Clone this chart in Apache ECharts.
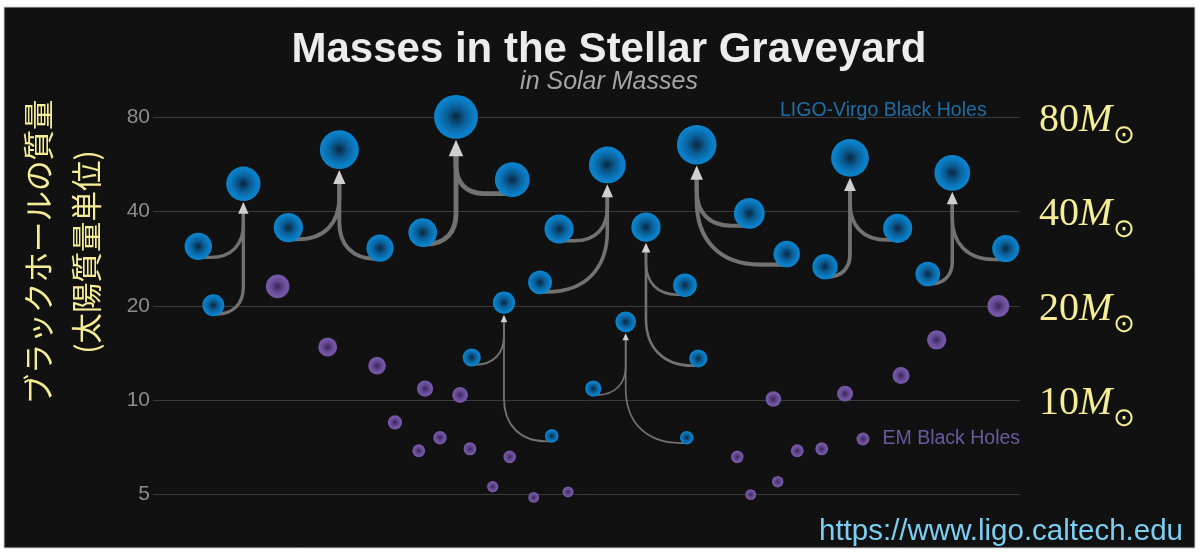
<!DOCTYPE html>
<html>
<head>
<meta charset="utf-8">
<script src="https://cdn.jsdelivr.net/npm/echarts@6/dist/echarts.min.js"></script>
<style>
html,body{margin:0;padding:0;background:#fff;}
#chart{width:1200px;height:559px;}
</style>
</head>
<body>
<div id="chart"></div>
<script>
// ---- Data (masses in solar masses, x = arbitrary horizontal layout position 0-100) ----
const events   = ['GW170104','GW150914','GW170729','GW151226','GW170809','GW170608','GW151012','GW170823','GW170818','GW170814'];
const mass1    = [31.0, 35.6, 34.3, 13.7, 35.2, 10.9, 23.3, 39.5, 35.4, 30.5];
const mass2    = [20.1, 30.6, 50.6,  7.7, 23.8,  7.6, 13.6, 29.3, 26.7, 25.3];
const massF    = [49.1, 63.1, 80.3, 20.5, 56.4, 17.8, 35.7, 65.4, 59.4, 53.2];
const pos1     = [5.22, 15.61, 31.11, 36.76, 46.83, 50.78, 61.36, 68.78, 85.89, 98.35];
const pos2     = [6.96, 26.18, 41.44, 45.99, 44.64, 61.56, 62.89, 73.09, 77.51, 89.36];
const posF     = [10.42, 21.49, 34.95, 40.48, 52.40, 54.52, 56.86, 62.71, 80.39, 92.19];

const emMass = [23.1, 14.8, 12.9, 10.9, 10.4, 8.5, 7.6, 6.9, 7.0, 6.6, 5.3, 4.9, 5.1, 6.6, 5.0, 10.1, 5.5, 6.9, 7.0, 10.5, 12.0, 15.6, 20.0];
const emPos  = [14.38, 20.15, 25.84, 31.38, 35.42, 27.91, 33.10, 30.65, 36.56, 41.14, 39.18, 43.91, 47.87, 67.39, 68.94, 71.55, 72.05, 74.31, 77.13, 79.82, 86.27, 90.39, 97.50];

const leftTicks  = [5, 10, 20, 40, 80];
const rightTicks = [10, 20, 40, 80];

// ---- Build ----
const sizeOf = m => 4.9 * Math.sqrt(m);
const ligoData = [];
events.forEach((e, i) => {
  ligoData.push({name: e, value: [pos1[i], mass1[i]]});
  ligoData.push({name: e, value: [pos2[i], mass2[i]]});
  ligoData.push({name: e, value: [posF[i], massF[i]]});
});
const emData = emMass.map((m, i) => [emPos[i], m]);
const mergerData = events.map((e, i) => [pos1[i], mass1[i], pos2[i], mass2[i], posF[i], massF[i]]);

const blueGrad = {type:'radial', x:0.5, y:0.5, r:0.5, colorStops:[
  {offset:0, color:'#0a2740'}, {offset:0.45, color:'#0a5f98'}, {offset:0.8, color:'#0a7cc4'}, {offset:1, color:'#0c84cc'}]};
const purpleGrad = {type:'radial', x:0.5, y:0.5, r:0.5, colorStops:[
  {offset:0, color:'#382754'}, {offset:0.5, color:'#634893'}, {offset:0.85, color:'#7658a6'}, {offset:1, color:'#6f55a0'}]};

const yellow = '#f6ee96';

const chart = echarts.init(document.getElementById('chart'));
chart.setOption({
  animation: false,
  backgroundColor: '#ffffff',
  title: {
    text: 'Masses in the Stellar Graveyard',
    subtext: 'in Solar Masses',
    left: 609, top: 29, textAlign: 'center', itemGap: 0, padding: 0,
    textStyle: {fontFamily:'Liberation Sans', fontSize:42, fontWeight:'bold', color:'#ececec', lineHeight:42},
    subtextStyle: {fontFamily:'Liberation Sans', fontSize:25, fontStyle:'italic', color:'#a6a6a6', lineHeight:22}
  },
  legend: [
    {data:[{name:'LIGO-Virgo Black Holes', icon:'none'}], left: 765, top: 100.5, padding: 0,
     itemWidth: 10, itemHeight: 13, selectedMode: false,
     textStyle:{fontFamily:'Liberation Sans', fontSize:19.5, color:'#1f6ea6'}},
    {data:[{name:'EM Black Holes', icon:'circle'}], left: 856.5, top: 429, padding: 0,
     itemWidth: 13, itemHeight: 13, selectedMode: false,
     textStyle:{fontFamily:'Liberation Sans', fontSize:19.5, color:'#6a5a9e', padding:[0,0,0,8]}}
  ],
  grid: {left: 153, right: 180, top: 87, bottom: 34, containLabel: false},
  xAxis: {type:'value', min:0, max:100, show:false},
  yAxis: [
    {type:'log', logBase:2, min:4, max:100, position:'left',
     axisLine:{show:false}, axisTick:{show:false, customValues:leftTicks},
     axisLabel:{customValues:leftTicks, margin:3, color:'#8c8c8c', fontSize:21, fontFamily:'Liberation Sans'},
     splitLine:{show:true, lineStyle:{color:'#3b3b3b', width:1}}},
    {type:'log', logBase:2, min:4, max:100, position:'right',
     axisLine:{show:false}, axisTick:{show:false, customValues:rightTicks}, splitLine:{show:false},
     axisLabel:{customValues:rightTicks, margin:19, padding:[6,0,0,0],
       formatter: v => '{n|' + v + '}{m|M}{s|⊙}',
       rich:{
         n:{fontFamily:'Liberation Serif', fontSize:40, color:yellow, lineHeight:46},
         m:{fontFamily:'Liberation Serif', fontSize:40, fontStyle:'italic', color:yellow, lineHeight:46},
         s:{fontFamily:'DejaVu Sans', fontSize:26, color:yellow, lineHeight:20, padding:[26,0,0,1], verticalAlign:'top'}
       }}}
  ],
  graphic: {elements: [
    {type:'rect', z:-100, shape:{x:4, y:7, width:1191, height:541}, style:{fill:'#111111', stroke:'#d0d0d0', lineWidth:1}},
    {type:'text', x:62, y:252, rotation:Math.PI/2, z:10,
     style:{text:'ブラックホールの質量\n(太陽質量単位)', fontFamily:'Noto Sans CJK JP', fontSize:30.5, lineHeight:48,
            fill:yellow, textAlign:'center', textVerticalAlign:'middle'}},
    {type:'text', x:1183, y:532, z:10,
     style:{text:'https://www.ligo.caltech.edu', fontFamily:'Liberation Sans', fontSize:29.5, fill:'#7ccff2',
            textAlign:'right', textVerticalAlign:'middle'}}
  ]},
  series: [
    {type:'custom', name:'mergers', z:1, silent:true,
     encode:{x:[0,2,4], y:[1,3,5]},
     data: mergerData,
     renderItem: function(params, api){
       const xf = api.value(4), mf = api.value(5);
       const pf = api.coord([xf, mf]);
       const rf = sizeOf(mf) / 2;
       const lw = 0.8 + 0.05 * mf;
       const ah = 3 * lw + 2, aw = 2.6 * lw + 2;
       const tipY = pf[1] + rf + 1;
       const baseY = tipY + ah;
       const children = [];
       [[api.value(0), api.value(1)], [api.value(2), api.value(3)]].forEach(function(c){
         const p = api.coord(c);
         const r = sizeOf(c[1]) / 2;
         const h = p[1] + 0.8 * r;
         const dx = Math.abs(pf[0] - p[0]);
         const sgn = pf[0] > p[0] ? 1 : -1;
         const R = Math.min(dx * 0.9, (h - baseY) * 0.75);
         const d = 'M' + p[0] + ',' + h + ' L' + (pf[0] - sgn * R) + ',' + h +
                   ' C' + (pf[0] - sgn * R * 0.35) + ',' + h + ' ' + pf[0] + ',' + (h - R * 0.4) + ' ' + pf[0] + ',' + (h - R) +
                   ' L' + pf[0] + ',' + baseY;
         children.push({type:'path', shape:{pathData:d}, style:{fill:null, stroke:'#727272', lineWidth:lw, lineCap:'round'}});
       });
       children.push({type:'polygon', shape:{points:[[pf[0], tipY], [pf[0] - aw/2, baseY], [pf[0] + aw/2, baseY]]},
                      style:{fill:'#d0d0d0'}});
       return {type:'group', children: children};
     }},
    {type:'scatter', name:'LIGO-Virgo Black Holes', z:3, data: ligoData,
     symbolSize: v => sizeOf(v[1]), itemStyle:{color: blueGrad, opacity:1}},
    {type:'scatter', name:'EM Black Holes', z:3, data: emData,
     symbolSize: v => sizeOf(v[1]), itemStyle:{color: purpleGrad, opacity:1}}
  ]
});
</script>
</body>
</html>
